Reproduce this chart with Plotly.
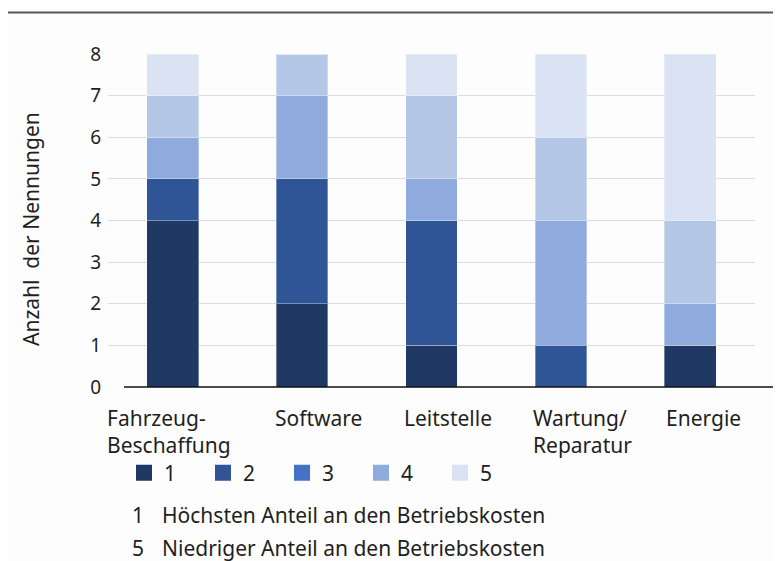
import plotly.graph_objects as go

categories = ["Fahrzeug-<br>Beschaffung", "Software", "Leitstelle", "Wartung/<br>Reparatur", "Energie"]
series_names = ["1", "2", "3", "4", "5"]
s1 = [4, 2, 1, 0, 1]
s2 = [1, 3, 3, 1, 0]
s3 = [1, 2, 1, 3, 1]
s4 = [1, 1, 2, 2, 2]
s5 = [1, 0, 1, 2, 4]
series_values = [s1, s2, s3, s4, s5]
y_ticks = [0, 1, 2, 3, 4, 5, 6, 7, 8]
y_title = "Anzahl&nbsp; der Nennungen"
note_numbers = ["1", "5"]
note_texts = ["Höchsten Anteil an den Betriebskosten", "Niedriger Anteil an den Betriebskosten"]

bar_colors = ["#203864", "#2f5597", "#8faadc", "#b4c7e7", "#dae3f3"]
legend_colors = ["#203864", "#2f5597", "#4472c4", "#8faadc", "#dae3f3"]

FONT = "Noto Sans"
TXT = "#1f1f1f"
FS = 19
FL = 21

# the page adds an 8px body margin, so page pixel p maps to figure pixel p - 8
OFF = 8
W, H = 781 - OFF, 561 - OFF
L, R, T, B = 108 - OFF, 26, 54 - OFF, 174
pw = W - L - R
ph = H - T - B


def px(p):
    return (p - OFF - L) / pw


def py(p):
    return (H - B - (p - OFF)) / ph


fig = go.Figure()
xs = list(range(len(categories)))
for name, vals, col in zip(series_names, series_values, bar_colors):
    fig.add_trace(go.Bar(
        x=xs, y=vals, name=name,
        marker=dict(color=col, line=dict(color="rgba(255,255,255,0.35)", width=1)),
        width=0.4, showlegend=False,
    ))
for name, col in zip(series_names, legend_colors):
    fig.add_trace(go.Scatter(
        x=[None], y=[None], mode="markers", name=name,
        marker=dict(symbol="square", size=19, color=col), showlegend=True,
    ))

annotations = []
xshifts = [-42, -3, -4, -4, 0]
for i, (cat, xs_) in enumerate(zip(categories, xshifts)):
    annotations.append(dict(
        x=i - 0.2, y=0, xref="x", yref="y", text=cat, showarrow=False,
        xanchor="left", yanchor="top", align="left", xshift=xs_, yshift=-15,
        font=dict(family=FONT, size=FL, color=TXT),
    ))
annotations.append(dict(
    x=px(31), y=py(229), xref="paper", yref="paper", text=y_title,
    textangle=-90, showarrow=False, xanchor="center", yanchor="middle",
    font=dict(family=FONT, size=21, color=TXT),
))
for j, (num, txt) in enumerate(zip(note_numbers, note_texts)):
    yc = 515 + 33 * j
    annotations.append(dict(x=px(130), y=py(yc), xref="paper", yref="paper", text=num,
                            showarrow=False, xanchor="left", yanchor="middle",
                            font=dict(family=FONT, size=FL, color=TXT)))
    annotations.append(dict(x=px(160), y=py(yc), xref="paper", yref="paper", text=txt,
                            showarrow=False, xanchor="left", yanchor="middle",
                            font=dict(family=FONT, size=FL, color=TXT)))

shapes = [
    dict(type="line", xref="paper", yref="paper", x0=px(124), x1=px(781),
         y0=0, y1=0, line=dict(color="#111111", width=1.5)),
    dict(type="line", xref="paper", yref="paper", x0=px(8), x1=px(781),
         y0=py(12.5), y1=py(12.5), line=dict(color="#555555", width=2)),
]

fig.update_layout(
    width=W, height=H,
    margin=dict(l=L, r=R, t=T, b=B),
    barmode="stack",
    paper_bgcolor="#fdfdfd", plot_bgcolor="#fdfdfd",
    font=dict(family=FONT, size=FS, color=TXT),
    xaxis=dict(range=[-0.5, len(categories) - 0.5], showticklabels=False, showgrid=False,
               zeroline=False, showline=False, fixedrange=True),
    yaxis=dict(range=[0, 8], tickvals=y_ticks, showgrid=True, gridcolor="#dcdcdc", gridwidth=1,
               zeroline=False, showline=False, ticks="", ticklabelstandoff=6,
               tickfont=dict(family=FONT, size=FS, color=TXT)),
    legend=dict(orientation="h", x=px(124), xanchor="left", y=py(473), yanchor="middle",
                entrywidth=34, entrywidthmode="pixels", traceorder="normal",
                font=dict(family=FONT, size=FL, color=TXT),
                bgcolor="rgba(0,0,0,0)", itemsizing="trace", tracegroupgap=0),
    annotations=annotations,
    shapes=shapes,
    showlegend=True,
)

fig.write_html("out.html")
